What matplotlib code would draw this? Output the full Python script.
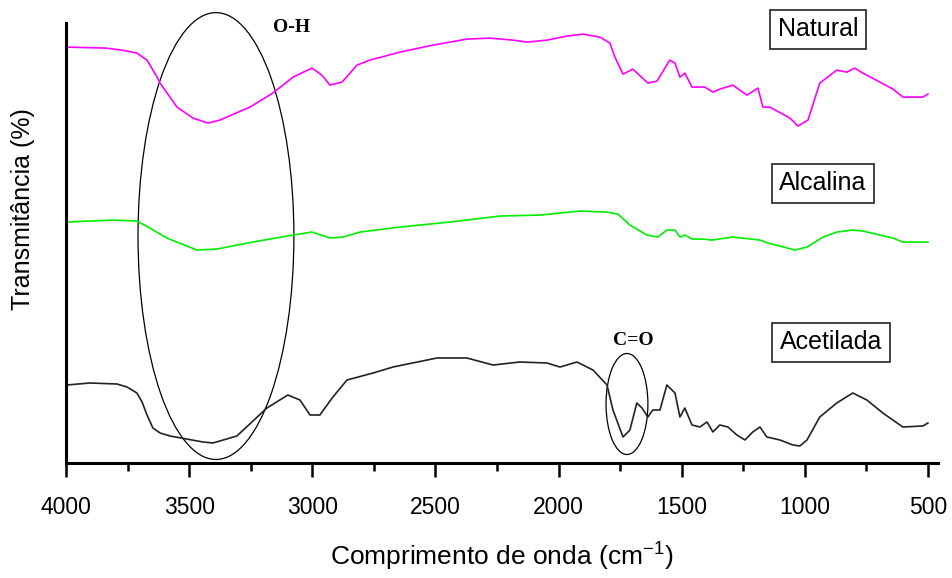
import numpy as np
import matplotlib.pyplot as plt
from matplotlib.patches import Ellipse
from matplotlib.ticker import MultipleLocator

plt.rcParams['font.family'] = ['Liberation Sans', 'DejaVu Sans']

# Wavenumber (cm-1) and relative transmittance (arbitrary units)
natural_wn = [3996, 3837, 3773, 3712, 3671, 3630, 3618, 3549, 3484, 3423, 3375, 3253,
              3160, 3078, 3001, 2961, 2928, 2879, 2818, 2766, 2644, 2510, 2372, 2278,
              2185, 2128, 2047, 1966, 1901, 1832, 1791, 1771, 1738, 1698, 1637, 1600,
              1548, 1527, 1507, 1487, 1458, 1406, 1373, 1345, 1292, 1235, 1190, 1170,
              1142, 1060, 1028, 987, 939, 870, 829, 797, 764, 695, 642, 602, 520, 500]
natural_t = [416, 415, 413, 410, 403, 386, 380, 356, 345, 340, 343, 356,
             370, 386, 395, 388, 378, 381, 398, 403, 411, 418, 424, 425,
             423, 421, 423, 427, 429, 426, 420, 406, 389, 394, 380, 382,
             403, 400, 386, 390, 376, 376, 371, 374, 378, 368, 375, 356,
             356, 345, 337, 343, 380, 393, 391, 395, 390, 381, 374, 366, 366, 369]

alcalina_wn = [3996, 3809, 3712, 3659, 3590, 3468, 3387, 3241, 3078, 3001, 2928, 2875,
               2806, 2644, 2441, 2238, 2075, 1994, 1913, 1803, 1759, 1710, 1641, 1596,
               1560, 1527, 1507, 1487, 1458, 1414, 1377, 1292, 1182, 1150, 1101, 1040,
               991, 926, 870, 805, 764, 695, 642, 602, 500]
alcalina_t = [241, 243, 242, 235, 225, 213, 214, 221, 228, 231, 225, 226,
              231, 236, 241, 247, 248, 250, 252, 251, 249, 238, 228, 226,
              233, 233, 226, 228, 224, 224, 223, 226, 223, 220, 217, 213,
              216, 226, 231, 233, 232, 228, 225, 221, 221]

acetilada_wn = [3996, 3903, 3793, 3752, 3712, 3691, 3671, 3647, 3618, 3578, 3444, 3403,
                3306, 3184, 3099, 3050, 3009, 2969, 2916, 2859, 2753, 2672, 2494, 2372,
                2266, 2157, 2047, 1994, 1925, 1860, 1803, 1779, 1738, 1710, 1682, 1661,
                1637, 1617, 1588, 1560, 1527, 1507, 1487, 1458, 1426, 1397, 1373, 1345,
                1312, 1276, 1243, 1211, 1182, 1154, 1101, 1048, 1020, 991, 939, 870,
                805, 748, 683, 602, 520, 500]
acetilada_t = [78, 80, 79, 76, 70, 61, 48, 35, 30, 27, 21, 20,
               27, 55, 68, 63, 48, 48, 66, 83, 90, 96, 105, 105,
               98, 101, 100, 96, 101, 93, 78, 53, 26, 33, 60, 55,
               46, 53, 53, 78, 70, 46, 55, 38, 36, 41, 31, 38,
               36, 28, 23, 31, 36, 26, 23, 18, 17, 23, 46, 60,
               70, 63, 50, 36, 37, 40]

fig = plt.figure(figsize=(9.52, 5.78), dpi=100)
ax = fig.add_axes([0.0693, 0.199, 0.916, 0.761])

ax.plot(natural_wn, natural_t, color='#ff00ff', lw=1.2)
ax.plot(alcalina_wn, alcalina_t, color='#00ee00', lw=1.2)
ax.plot(acetilada_wn, acetilada_t, color='#222222', lw=1.2)

# band markers
ax.add_patch(Ellipse((3391, 227), 633, 447, fill=False, ec='black', lw=0.9,
                     clip_on=False))
ax.add_patch(Ellipse((1722, 59), 170, 101, fill=False, ec='black', lw=0.9))
ax.text(3082, 436, 'O-H', family='Liberation Serif', weight='bold', fontsize=14,
        ha='center', va='center')
ax.text(1698, 123, 'C=O', family='Liberation Serif', weight='bold', fontsize=14,
        ha='center', va='center')

box = dict(boxstyle='square,pad=0.3', fc='white', ec='#222222', lw=1.2)
ax.text(947, 434, 'Natural', fontsize=18, ha='center', va='center', bbox=box)
ax.text(926, 280, 'Alcalina', fontsize=18, ha='center', va='center', bbox=box)
ax.text(894, 121, 'Acetilada', fontsize=18, ha='center', va='center', bbox=box)

ax.set_xlim(4000, 459)
ax.set_ylim(0, 440)
ax.xaxis.set_major_locator(MultipleLocator(500))
ax.xaxis.set_minor_locator(MultipleLocator(250))
ax.tick_params(axis='x', which='major', direction='out', length=10, width=1.8,
               labelsize=16.5, pad=14)
ax.tick_params(axis='x', which='minor', direction='out', length=6, width=1.8)
ax.set_yticks([])
for side in ['top', 'right']:
    ax.spines[side].set_visible(False)
for side in ['left', 'bottom']:
    ax.spines[side].set_linewidth(2.2)

ax.set_xlabel(r'Comprimento de onda (cm$^{\mathregular{-1}}$)', fontsize=19, labelpad=14)
ax.set_ylabel('Transmitância (%)', fontsize=18)
ax.yaxis.set_label_coords(-0.036, 0.577)

fig.savefig('out.png', dpi=100)
